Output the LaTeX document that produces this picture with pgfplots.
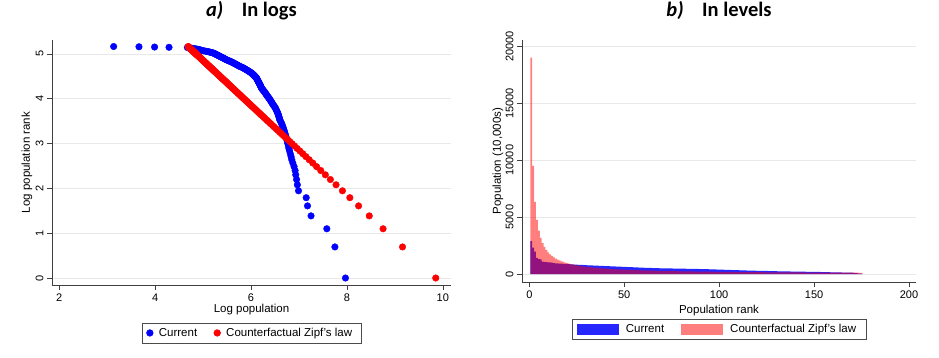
\documentclass[border=0pt]{standalone}
\usepackage{pgfplots}
\pgfplotsset{compat=1.18}
\usepackage{pgfplotstable}
\usepackage{fontspec}
\setmainfont{Liberation Sans}
\newfontfamily\titlefont{Carlito}
\pgfplotstableread{
rank cur cf
1 2890 19000
2 2320 9500
3 1960 6333
4 1410 4750
5 1310 3800
6 1275 3167
7 1086 2714
8 1060 2375
9 1043 2111
10 1025 1900
11 1012 1727
12 990 1583
13 965 1462
14 944 1357
15 930 1267
16 915 1188
17 902 1118
18 890 1056
19 880 1000
20 870 950
21 860 905
22 850 864
23 840 826
24 830 792
25 821 760
26 812 731
27 803 704
28 794 679
29 785 655
30 776 633
31 767 613
32 758 594
33 747 576
34 735 559
35 730 543
36 725 528
37 720 514
38 714 500
39 708 487
40 701 475
41 694 463
42 687 452
43 680 442
44 673 432
45 666 422
46 656 413
47 646 404
48 638 396
49 630 388
50 623 380
51 616 373
52 609 365
53 602 358
54 595 352
55 588 345
56 581 339
57 574 333
58 567 328
59 561 322
60 555 317
61 549 311
62 543 306
63 537 302
64 531 297
65 526 292
66 520 288
67 514 284
68 508 279
69 503 275
70 500 271
71 497 268
72 494 264
73 491 260
74 488 257
75 485 253
76 482 250
77 479 247
78 476 244
79 473 241
80 470 238
81 467 235
82 464 232
83 461 229
84 458 226
85 456 224
86 455 221
87 450 218
88 446 216
89 442 213
90 438 211
91 433 209
92 429 207
93 425 204
94 420 202
95 416 200
96 411 198
97 407 196
98 401 194
99 395 192
100 389 190
101 384 188
102 378 186
103 373 184
104 367 183
105 362 181
106 356 179
107 351 178
108 346 176
109 341 174
110 335 173
111 328 171
112 320 170
113 316 168
114 311 167
115 307 165
116 302 164
117 298 162
118 293 161
119 289 160
120 285 158
121 281 157
122 277 156
123 273 154
124 268 153
125 264 152
126 260 151
127 255 150
128 251 148
129 246 147
130 242 146
131 239 145
132 236 144
133 233 143
134 230 142
135 227 141
136 224 140
137 221 139
138 218 138
139 215 137
140 212 136
141 210 135
142 207 134
143 204 133
144 202 132
145 199 131
146 197 130
147 194 129
148 192 128
149 190 128
150 187 127
151 185 126
152 181 125
153 177 124
154 173 123
155 169 123
156 165 122
157 160 121
158 155 120
159 150 119
160 146 119
161 143 118
162 140 117
163 137 117
164 134 116
165 131 115
166 127 114
167 123 114
168 119 113
169 115 112
170 111 112
171 107 111
172 73 110
173 54 110
174 39 109
175 23 109
}\data

\pgfplotsset{
  stata/.style={
    scale only axis,
    axis x line*=bottom, axis y line*=left,
    axis line style={draw=black!75, line width=0.6pt},
    tick style={draw=black!75, line width=0.6pt},
    tick align=outside, major tick length=5pt,
    ymajorgrids, major grid style={draw=black!9, line width=0.7pt},
    yticklabel style={rotate=90, anchor=south},
    tick label style={font=\fontsize{11}{13}\selectfont},
    label style={font=\fontsize{11.5}{13}\selectfont},
    /pgf/number format/assume math mode=true,
    /pgf/number format/set thousands separator={},
    scaled ticks=false,
    title style={font=\titlefont\fontsize{20.5}{24}\selectfont, anchor=center},
    legend style={font=\fontsize{11.5}{13}\selectfont, draw=black!70, line width=0.6pt,
      legend columns=2, anchor=north, inner xsep=0pt, inner ysep=4pt,
      nodes={inner xsep=0pt, inner ysep=1pt}},
  },
  dotlegend/.style={legend image code/.code={%
    \path[draw=none,fill=none] (-8pt,0pt) -- (9pt,0pt);
    \draw[##1] plot coordinates {(0pt,0pt)};}},
  barlegend/.style={legend image code/.code={%
    \path[draw=none,fill=none] (-5pt,0pt) -- (49pt,0pt);
    \fill[##1] (0pt,-5.5pt) rectangle (42pt,5.5pt);}},
}

\begin{document}
\begin{tikzpicture}
\useasboundingbox (0pt,0pt) rectangle (939pt,357pt);

\begin{axis}[stata, at={(52pt,72pt)}, anchor=south west, width=399pt, height=245pt,
  xmin=1.85, xmax=10.17, ymin=-0.156, ymax=5.31,
  xtick={2,4,6,8,10}, ytick={0,1,2,3,4,5},
  xlabel={Log population}, ylabel={Log population rank},
  xlabel style={at={(axis description cs:0.5,-0.102)}, anchor=center},
  ylabel style={at={(axis description cs:-0.0627,0.5)}, anchor=center},
  title={\textbf{\textit{a)}}\hspace{0.9em}\textbf{In logs}},
  title style={at={(axis description cs:0.5,1.096)}},
  legend style={at={(axis description cs:0.5,-0.154)}},
  dotlegend,
]
\addplot[only marks, mark=*, mark size=3.3pt, color=blue]
  table[x expr={ln(\thisrow{cur})}, y expr={ln(\thisrow{rank})}]{\data};
\addlegendentry{Current\rule{12pt}{0pt}}
\addplot[only marks, mark=*, mark size=3.3pt, color=red]
  table[x expr={ln(\thisrow{cf})}, y expr={ln(\thisrow{rank})}]{\data};
\addlegendentry{Counterfactual Zipf's law\rule{9pt}{0pt}}
\end{axis}

\begin{axis}[stata, at={(522pt,75pt)}, anchor=south west, width=394pt, height=242pt,
  xmin=-3.85, xmax=203.7, ymin=-703, ymax=20553,
  xtick={0,50,100,150,200}, ytick={0,5000,10000,15000,20000},
  xlabel={Population rank}, ylabel={Population (10,000s)},
  xlabel style={at={(axis description cs:0.5,-0.116)}, anchor=center},
  ylabel style={at={(axis description cs:-0.0609,0.5)}, anchor=center},
  title={\textbf{\textit{b)}}\hspace{0.9em}\textbf{In levels}},
  title style={at={(axis description cs:0.5,1.097)}},
  legend style={at={(axis description cs:0.5,-0.152)}},
  barlegend,
]
\addplot[ybar, bar width=1, bar shift=0pt, fill=blue, fill opacity=0.85, draw=none, barlegend]
  table[x=rank, y=cur]{\data};
\addlegendentry{Current\rule{12pt}{0pt}}
\addplot[ybar, bar width=1, bar shift=0pt, fill=red, fill opacity=0.5, draw=none, barlegend]
  table[x=rank, y=cf]{\data};
\addlegendentry{Counterfactual Zipf's law\rule{10pt}{0pt}}
\end{axis}
\end{tikzpicture}
\end{document}
